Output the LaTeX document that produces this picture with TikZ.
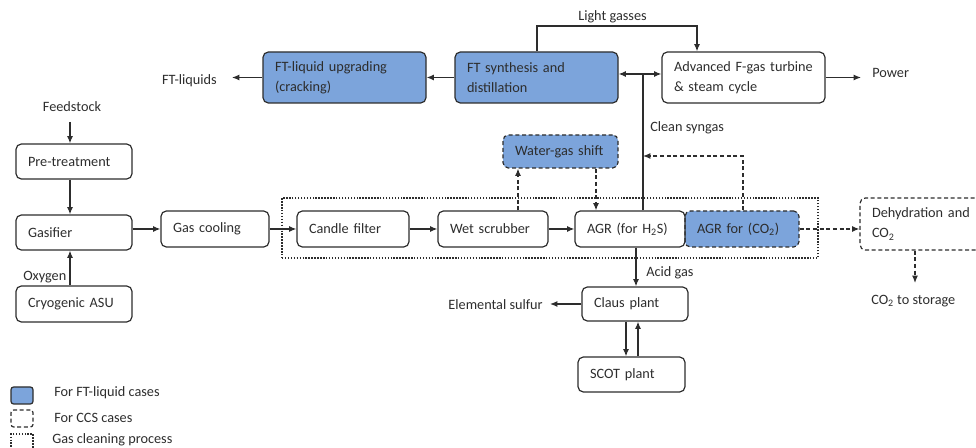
\documentclass[tikz,border=0pt]{standalone}
\usepackage{fontspec}
\setmainfont{Carlito}
\usetikzlibrary{arrows.meta}
\definecolor{ftblue}{RGB}{124,164,219}
\definecolor{ink}{RGB}{45,45,45}
\newcommand{\fsz}{\fontsize{10.7}{15}\selectfont}
\begin{document}
\begin{tikzpicture}[x=0.75pt,y=-0.75pt,
  every node/.style={font=\fsz, text=ink},
  box/.style={draw=ink, line width=0.9pt, rounded corners=4pt, align=left, inner xsep=9pt, inner ysep=0pt},
  sz/.style 2 args={text width=#1, minimum height=#2},
  ftbox/.style={box, fill=ftblue},
  ccsline/.style={dash pattern=on 3pt off 2pt},
  dotline/.style={line width=1.5pt, dash pattern=on 1.1pt off 1.1pt},
  lbl/.style={inner sep=0pt},
  arr/.style={draw=ink, line width=0.9pt, -{Latex[length=5.5pt,width=4.5pt]}},
  darr/.style={arr, ccsline},
  plain/.style={draw=ink, line width=0.9pt},
  legend/.style={draw=ink, line width=0.9pt, rounded corners=2pt, minimum width=16.5pt, minimum height=12.75pt, inner sep=0pt}
]
\useasboundingbox (0,0) rectangle (976,448);
\clip (0,0) rectangle (976,448);

% gas cleaning frame
\node[draw=ink, dotline, minimum width=402pt, minimum height=45pt, inner sep=0pt] (gcp) at (550,228) {};

% boxes
\node[box, sz={69pt}{26.25pt}] (pre) at (74,161.5) {Pre-treatment};
\node[box, sz={69pt}{26.25pt}] (gas) at (74,232.5) {Gasifier};
\node[box, sz={69pt}{27pt}] (asu) at (74,304) {Cryogenic ASU};
\node[box, sz={63pt}{27pt}] (cool) at (215,229) {Gas cooling};
\node[box, sz={66pt}{27pt}] (candle) at (353,229) {Candle filter};
\node[box, sz={64.5pt}{27pt}] (wet) at (493,229) {Wet scrubber};
\node[ftbox, ccsline, sz={67.5pt}{27pt}] (agr2) at (742,229) {AGR for (CO\textsubscript{2})};
\node[box, sz={64.5pt}{27pt}] (agr1) at (630,229) {AGR (for H\textsubscript{2}S)};
\node[ftbox, ccsline, sz={68.25pt}{24.75pt}] (wgs) at (560.5,151.5) {Water-gas shift};
\node[ftbox, sz={104.25pt}{38.25pt}] (ftup) at (344.5,77.5) {FT-liquid upgrading\\(cracking)};
\node[ftbox, sz={104.25pt}{38.25pt}] (ftsyn) at (536.5,77.5) {FT synthesis and\\distillation};
\node[box, sz={104.25pt}{38.25pt}] (turb) at (743.5,77.5) {\mbox{Advanced F-gas turbine}\\\& steam cycle};
\node[box, sz={61.5pt}{25.5pt}] (claus) at (635,304) {Claus plant};
\node[box, sz={62.25pt}{26.25pt}] (scot) at (631.5,374.5) {SCOT plant};
\node[box, ccsline, sz={87pt}{39pt}] (dehyd) at (930,224) {Dehydration and\\CO\textsubscript{2}};

% labels
\node[lbl] (feed) at (72,107) {Feedstock};
\node[lbl] (ftliq) at (189.5,81) {FT-liquids};
\node[lbl, anchor=west] (lg) at (578,17) {Light gasses};
\node[lbl, anchor=west] (power) at (872,73) {Power};
\node[lbl, anchor=west] (clean) at (650,128) {Clean syngas};
\node[lbl, anchor=west] (oxy) at (23,277) {Oxygen};
\node[lbl, anchor=west] (acid) at (646,273) {Acid gas};
\node[lbl, anchor=east] (sulf) at (543,305) {Elemental sulfur};
\node[lbl, anchor=west] (store) at (871,301) {CO\textsubscript{2} to storage};

% coordinates
\coordinate (vx) at (70,0);
\coordinate (fd) at (70,122);
\coordinate (fl) at (232,77.5);
\coordinate (pw) at (861,77.5);
\coordinate (es) at (550,304);
\coordinate (ax) at (636,0);
\coordinate (cd) at (626,0);
\coordinate (cu) at (638,0);
\coordinate (wu) at (518,0);
\coordinate (wd) at (596,0);
\coordinate (split) at (643,74);
\coordinate (lgL) at (537,26);
\coordinate (lgR) at (697,26);
\coordinate (cco) at (743,156);
\coordinate (ccs) at (643,156);
\coordinate (st) at (915,283);

% connectors
\draw[arr] (fd) -- (pre.north -| fd);
\draw[arr] (pre.south -| vx) -- (gas.north -| vx);
\draw[arr] (asu.north -| vx) -- (gas.south -| vx);
\draw[arr] (gas.east |- cool.west) -- (cool.west);
\draw[arr] (cool.east) -- (candle.west);
\draw[arr] (candle.east) -- (wet.west);
\draw[arr] (wet.east) -- (agr1.west);
\draw[arr] (agr1.south -| ax) -- (claus.north -| ax);
\draw[arr] (claus.west) -- (es);
\draw[arr] (claus.south -| cd) -- (scot.north -| cd);
\draw[arr] (scot.north -| cu) -- (claus.south -| cu);
\draw[darr] (wet.north -| wu) -- (wgs.south -| wu);
\draw[darr] (wgs.south -| wd) -- (agr1.north -| wd);
\draw[plain] (agr1.north -| split) -- (split);
\draw[arr] (split) -- (ftsyn.east |- split);
\draw[arr] (split) -- (turb.west |- split);
\draw[arr] (ftsyn.north -| lgL) -- (lgL) -- (lgR) -- (turb.north -| lgR);
\draw[arr] (ftsyn.west) -- (ftup.east);
\draw[arr] (ftup.west) -- (fl);
\draw[arr] (turb.east) -- (pw);
\draw[darr] (agr2.north -| cco) -- (cco) -- (ccs);
\draw[darr] (agr2.east) -- (dehyd.west |- agr2.east);
\draw[darr] (dehyd.south -| st) -- (st);

% legend
\node[legend, fill=ftblue] (lg1) at (22,395.5) {};
\node[legend, ccsline] (lg2) at (22,418.5) {};
\node[legend, dotline, rounded corners=0pt, minimum height=11.25pt] (lg3) at (22,441.5) {};
\node[lbl, anchor=west] (lt1) at (54,393) {For FT-liquid cases};
\node[lbl, anchor=west] (lt2) at (54,418) {For CCS cases};
\node[lbl, anchor=west] (lt3) at (52,440) {Gas cleaning process};
\end{tikzpicture}
\end{document}
